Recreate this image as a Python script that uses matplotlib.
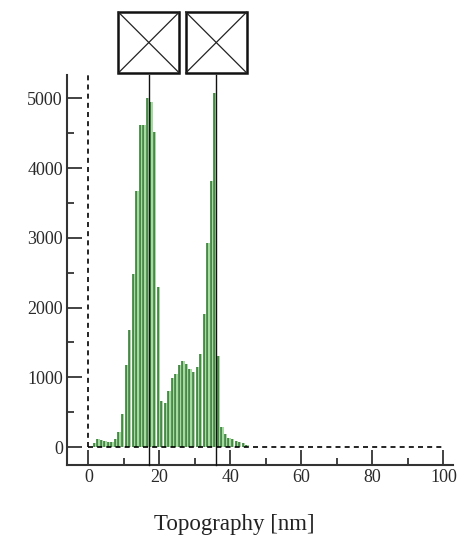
import numpy as np
import matplotlib
matplotlib.use('Agg')
import matplotlib.pyplot as plt
from matplotlib.patches import Rectangle
from matplotlib.transforms import blended_transform_factory
from matplotlib.ticker import MultipleLocator

plt.rcParams['font.family'] = ['Liberation Serif', 'DejaVu Serif']

# histogram bins (left edge, nm) and counts
bin_left = np.arange(1, 45)
counts = [60, 120, 95, 80, 75, 70, 110, 220, 470, 1180,
          1680, 2480, 3670, 4620, 4620, 5010, 4940, 4510, 2290, 660,
          630, 800, 990, 1050, 1180, 1240, 1190, 1120, 1070, 1150,
          1330, 1900, 2930, 3810, 5080, 1310, 280, 180, 135, 110,
          85, 70, 55, 35]
marker_x = [17, 36]
xticks = [0, 20, 40, 60, 80, 100]
yticks = [0, 1000, 2000, 3000, 4000, 5000]

fig = plt.figure(figsize=(4.66, 5.39), dpi=100)
ax = fig.add_axes([67/466, 1-465/539, 386/466, 390/539])

x0 = bin_left + 0.45
ax.bar(x0, counts, width=0.66, align='edge', color='#a3dc9c', edgecolor='none', zorder=2)
ax.vlines(x0, 0, counts, color='#2b722c', lw=1.1, zorder=3)

# dashed reference lines
ax.plot([0, 0], [0, 5334], color='k', lw=1.2, dashes=(3, 2.5), zorder=4, clip_on=False)
ax.plot([0, 100], [0, 0], color='k', lw=1.2, dashes=(3, 2.5), zorder=4)

ax.set_xlim(-6.05, 102.7)
ax.set_ylim(-258, 5334)
ax.set_xticks(xticks)
ax.set_yticks(yticks)
ax.xaxis.set_minor_locator(MultipleLocator(10))
ax.yaxis.set_minor_locator(MultipleLocator(500))
ax.tick_params(which='major', direction='in', length=11, width=1.2, color='#222222',
               labelsize=13, labelcolor='#2a2a2a', pad=3)
ax.tick_params(which='minor', direction='in', length=5, width=1.2, color='#222222')
for s in ['top', 'right']:
    ax.spines[s].set_visible(False)
for s in ['left', 'bottom']:
    ax.spines[s].set_linewidth(1.5)
    ax.spines[s].set_color('#333333')

# cursor markers with crossed boxes on top
ta = blended_transform_factory(ax.transData, ax.transAxes)
tf = blended_transform_factory(ax.transData, fig.transFigure)
bw = 17.2
yb = 1 - 73/539
bh = 61/539
for mx in marker_x:
    ax.plot([mx, mx], [0, 1], transform=ta, color='#111111', lw=1.0, zorder=5, clip_on=False)
    r = Rectangle((mx - bw/2, yb), bw, bh, transform=tf, fill=False, lw=1.8,
                  edgecolor='#111111', clip_on=False)
    ax.add_patch(r)
    ax.plot([mx - bw/2, mx + bw/2], [yb, yb + bh], transform=tf, color='#222222', lw=0.9, clip_on=False)
    ax.plot([mx - bw/2, mx + bw/2], [yb + bh, yb], transform=tf, color='#222222', lw=0.9, clip_on=False)

fig.text(234/466, 1 - 530/539, 'Topography [nm]', ha='center', va='baseline',
         fontsize=16.5, color='#222222')

fig.savefig('out.png', dpi=100)
